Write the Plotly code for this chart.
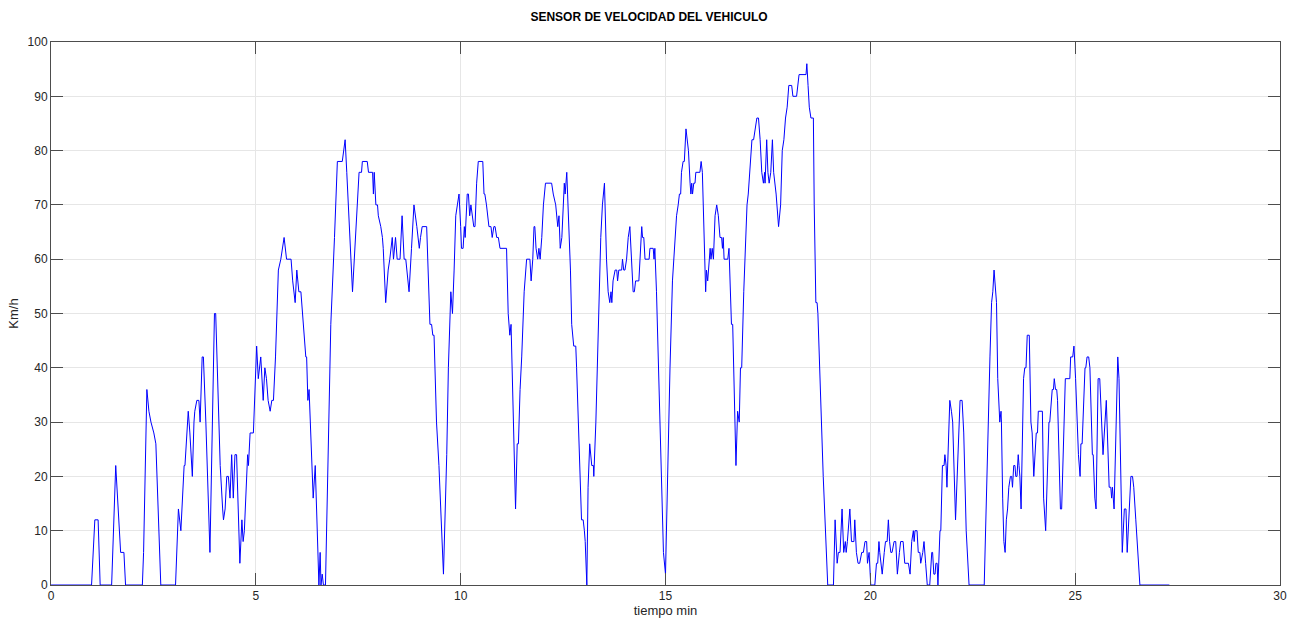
import plotly.graph_objects as go

tiempo_min = [
    0.00, 0.99, 1.07, 1.15, 1.20, 1.48, 1.58, 1.70, 1.78, 1.82,
    2.23, 2.26, 2.34, 2.39, 2.44, 2.51, 2.56, 2.68, 3.04, 3.11,
    3.17, 3.25, 3.27, 3.35, 3.39, 3.45, 3.49, 3.51, 3.56, 3.61,
    3.64, 3.69, 3.72, 3.78, 3.88, 3.99, 4.02, 4.07, 4.13, 4.19,
    4.21, 4.25, 4.29, 4.33, 4.37, 4.41, 4.45, 4.49, 4.53, 4.61,
    4.66, 4.69, 4.72, 4.80, 4.82, 4.86, 4.94, 5.02, 5.06, 5.12,
    5.18, 5.22, 5.26, 5.30, 5.35, 5.39, 5.43, 5.48, 5.55, 5.61,
    5.69, 5.75, 5.86, 5.90, 5.96, 6.00, 6.05, 6.10, 6.16, 6.22,
    6.24, 6.27, 6.30, 6.40, 6.45, 6.54, 6.57, 6.59, 6.62, 6.65,
    6.70, 6.77, 6.83, 6.92, 6.99, 7.11, 7.14, 7.18, 7.22, 7.36,
    7.52, 7.58, 7.60, 7.72, 7.75, 7.85, 7.87, 7.89, 7.93, 7.97,
    7.99, 8.05, 8.09, 8.11, 8.17, 8.21, 8.23, 8.27, 8.33, 8.36,
    8.41, 8.45, 8.52, 8.57, 8.60, 8.62, 8.66, 8.74, 8.80, 8.86,
    8.93, 8.99, 9.02, 9.06, 9.17, 9.21, 9.25, 9.29, 9.32, 9.35,
    9.41, 9.47, 9.52, 9.58, 9.66, 9.70, 9.76, 9.80, 9.84, 9.88,
    9.92, 9.96, 10.00, 10.02, 10.06, 10.09, 10.11, 10.16, 10.19, 10.22,
    10.25, 10.28, 10.32, 10.35, 10.39, 10.43, 10.54, 10.57, 10.59, 10.63,
    10.66, 10.69, 10.74, 10.77, 10.81, 10.84, 10.88, 10.92, 10.96, 11.12,
    11.16, 11.20, 11.23, 11.26, 11.34, 11.38, 11.41, 11.45, 11.49, 11.55,
    11.59, 11.61, 11.69, 11.72, 11.76, 11.79, 11.81, 11.84, 11.88, 11.91,
    11.94, 11.98, 12.02, 12.07, 12.22, 12.26, 12.32, 12.34, 12.37, 12.40,
    12.43, 12.47, 12.50, 12.53, 12.55, 12.59, 12.61, 12.65, 12.68, 12.71,
    12.76, 12.81, 12.83, 12.95, 12.99, 13.02, 13.04, 13.08, 13.11, 13.15,
    13.20, 13.24, 13.25, 13.30, 13.36, 13.42, 13.46, 13.51, 13.56, 13.60,
    13.64, 13.67, 13.69, 13.72, 13.77, 13.81, 13.83, 13.86, 13.93, 13.95,
    13.98, 14.01, 14.05, 14.09, 14.13, 14.17, 14.21, 14.24, 14.27, 14.35,
    14.38, 14.42, 14.44, 14.47, 14.50, 14.60, 14.62, 14.70, 14.72, 14.74,
    14.78, 14.95, 15.00, 15.05, 15.11, 15.17, 15.23, 15.27, 15.31, 15.34,
    15.37, 15.39, 15.43, 15.46, 15.50, 15.56, 15.60, 15.62, 15.64, 15.66,
    15.69, 15.72, 15.74, 15.84, 15.87, 15.90, 15.98, 16.00, 16.03, 16.06,
    16.09, 16.11, 16.14, 16.17, 16.21, 16.25, 16.29, 16.33, 16.37, 16.39,
    16.41, 16.43, 16.52, 16.55, 16.61, 16.64, 16.72, 16.76, 16.80, 16.83,
    16.86, 16.91, 16.94, 16.99, 17.02, 17.06, 17.11, 17.15, 17.19, 17.23,
    17.27, 17.31, 17.35, 17.39, 17.42, 17.43, 17.47, 17.50, 17.53, 17.57,
    17.61, 17.64, 17.70, 17.76, 17.81, 17.85, 17.89, 17.93, 17.97, 18.01,
    18.08, 18.11, 18.20, 18.23, 18.26, 18.43, 18.45, 18.48, 18.51, 18.55,
    18.61, 18.63, 18.67, 18.70, 18.72, 18.85, 18.96, 19.10, 19.14, 19.19,
    19.22, 19.26, 19.31, 19.35, 19.39, 19.41, 19.44, 19.50, 19.54, 19.60,
    19.62, 19.66, 19.70, 19.74, 19.79, 19.83, 19.87, 19.91, 19.93, 19.97,
    19.99, 20.01, 20.11, 20.15, 20.18, 20.21, 20.23, 20.26, 20.29, 20.34,
    20.37, 20.41, 20.44, 20.47, 20.50, 20.53, 20.58, 20.62, 20.64, 20.66,
    20.71, 20.74, 20.80, 20.84, 20.93, 20.97, 21.01, 21.05, 21.07, 21.09,
    21.14, 21.17, 21.21, 21.23, 21.28, 21.31, 21.35, 21.39, 21.45, 21.50,
    21.52, 21.55, 21.58, 21.60, 21.63, 21.65, 21.70, 21.72, 21.76, 21.80,
    21.82, 21.85, 21.87, 21.94, 21.98, 22.01, 22.08, 22.16, 22.19, 22.24,
    22.28, 22.34, 22.41, 22.78, 22.81, 22.85, 22.92, 22.96, 22.99, 23.02,
    23.06, 23.08, 23.11, 23.14, 23.16, 23.19, 23.20, 23.23, 23.26, 23.29,
    23.32, 23.35, 23.38, 23.42, 23.45, 23.47, 23.50, 23.53, 23.55, 23.58,
    23.61, 23.63, 23.65, 23.68, 23.74, 23.77, 23.80, 23.83, 23.88, 23.92,
    23.95, 23.99, 24.02, 24.05, 24.08, 24.10, 24.20, 24.23, 24.28, 24.36,
    24.38, 24.41, 24.44, 24.47, 24.49, 24.52, 24.55, 24.57, 24.64, 24.67,
    24.74, 24.76, 24.87, 24.89, 24.94, 24.97, 25.01, 25.05, 25.08, 25.12,
    25.14, 25.17, 25.24, 25.26, 25.29, 25.33, 25.36, 25.42, 25.44, 25.48,
    25.51, 25.56, 25.60, 25.68, 25.76, 25.83, 25.87, 25.89, 25.91, 25.95,
    26.04, 26.07, 26.15, 26.20, 26.24, 26.27, 26.34, 26.36, 26.40, 26.43,
    26.48, 26.58, 27.30,
]

velocidad_kmh = [
    0, 0, 12, 12, 0, 0, 22, 6, 6, 0,
    0, 6, 36, 32, 30, 28, 26, 0, 0, 14,
    10, 22, 22, 32, 28, 20, 30, 32, 34, 34,
    30, 42, 42, 30, 6, 50, 50, 36, 22, 14,
    12, 14, 20, 20, 16, 24, 16, 24, 24, 4,
    12, 8, 10, 24, 22, 28, 28, 44, 38, 42,
    34, 40, 38, 34, 32, 34, 34, 42, 58, 60,
    64, 60, 60, 56, 52, 58, 54, 54, 48, 42,
    42, 34, 36, 16, 22, 0, 6, 0, 2, 0,
    0, 24, 48, 64, 78, 78, 80, 82, 76, 54,
    76, 76, 78, 78, 76, 76, 72, 76, 70, 70,
    68, 66, 64, 62, 52, 56, 58, 60, 64, 60,
    64, 60, 60, 68, 62, 60, 60, 54, 62, 70,
    66, 62, 64, 66, 66, 56, 48, 48, 46, 46,
    30, 22, 12, 2, 24, 40, 54, 50, 58, 68,
    70, 72, 66, 62, 62, 66, 64, 72, 72, 68,
    70, 68, 66, 66, 74, 78, 78, 72, 72, 70,
    68, 66, 66, 64, 66, 66, 64, 64, 62, 62,
    50, 46, 48, 40, 14, 26, 26, 36, 42, 54,
    58, 60, 60, 56, 60, 66, 66, 62, 60, 62,
    60, 64, 70, 74, 74, 72, 70, 68, 66, 68,
    62, 64, 70, 74, 72, 76, 72, 64, 58, 48,
    44, 44, 40, 12, 12, 10, 8, 0, 18, 26,
    22, 22, 20, 30, 50, 64, 70, 74, 60, 54,
    52, 54, 52, 56, 58, 58, 56, 58, 58, 60,
    58, 58, 60, 64, 66, 60, 54, 54, 56, 56,
    60, 66, 64, 64, 60, 60, 62, 62, 60, 62,
    54, 6, 2, 20, 40, 56, 64, 68, 70, 72,
    72, 76, 78, 78, 84, 80, 74, 72, 74, 72,
    74, 74, 76, 76, 78, 76, 54, 58, 56, 60,
    62, 60, 62, 60, 68, 70, 68, 64, 64, 62,
    64, 60, 60, 62, 48, 48, 22, 32, 30, 40,
    40, 54, 60, 70, 72, 76, 82, 82, 84, 86,
    86, 82, 76, 74, 76, 74, 82, 76, 74, 76,
    82, 76, 72, 66, 70, 80, 82, 86, 88, 92,
    92, 90, 90, 92, 94, 94, 96, 92, 88, 86,
    86, 70, 52, 52, 50, 20, 0, 0, 12, 4,
    6, 6, 14, 6, 8, 6, 8, 14, 8, 8,
    12, 6, 4, 4, 6, 6, 8, 8, 4, 6,
    2, 0, 0, 4, 4, 8, 6, 4, 2, 6,
    8, 8, 12, 8, 6, 6, 8, 8, 4, 2,
    6, 8, 8, 4, 4, 2, 8, 10, 8, 10,
    10, 6, 6, 4, 6, 8, 4, 0, 0, 6,
    6, 2, 2, 4, 4, 0, 10, 10, 22, 22,
    24, 22, 18, 34, 32, 30, 12, 30, 34, 34,
    28, 10, 0, 0, 10, 18, 42, 52, 54, 58,
    54, 52, 38, 32, 30, 32, 30, 16, 8, 6,
    12, 14, 18, 20, 20, 18, 22, 22, 20, 20,
    24, 22, 20, 14, 38, 40, 40, 46, 46, 30,
    28, 20, 24, 28, 28, 32, 32, 16, 10, 30,
    30, 34, 36, 36, 38, 36, 36, 34, 14, 14,
    36, 38, 38, 42, 42, 44, 38, 30, 24, 20,
    26, 26, 40, 40, 42, 42, 40, 24, 24, 16,
    14, 38, 38, 24, 34, 18, 18, 16, 18, 14,
    42, 38, 6, 14, 14, 6, 16, 20, 20, 18,
    12, 0, 0,
]

x_ticks = [0, 5, 10, 15, 20, 25, 30]
y_ticks = [0, 10, 20, 30, 40, 50, 60, 70, 80, 90, 100]

FONT = "Liberation Sans, Arial, sans-serif"

fig = go.Figure()
fig.add_trace(go.Scatter(
    x=tiempo_min, y=velocidad_kmh, mode="lines",
    line=dict(color="#0000ff", width=1),
    hoverinfo="x+y", showlegend=False,
))

axis_common = dict(
    showgrid=True, gridcolor="#e6e6e6", gridwidth=1,
    zeroline=False, showline=True, linecolor="#4d4d4d", linewidth=1,
    mirror="allticks", ticks="inside", ticklen=12, tickwidth=1,
    tickcolor="#4d4d4d", automargin=False,
    tickfont=dict(family=FONT, size=12, color="#262626"),
)

fig.update_layout(
    width=1298, height=620,
    margin=dict(l=51, r=18, t=42, b=35),
    paper_bgcolor="white", plot_bgcolor="white",
    title=dict(
        text="<b>SENSOR DE VELOCIDAD DEL VEHICULO</b>",
        x=0.5, xanchor="center", xref="container",
        y=1 - 17 / 620, yanchor="middle", yref="container",
        font=dict(family=FONT, size=12, color="#000000"),
    ),
    xaxis=dict(
        range=[0, 30], tickvals=x_ticks, ticktext=[str(v) for v in x_ticks],
        title=dict(text="tiempo min", standoff=2,
                   font=dict(family=FONT, size=13, color="#262626")),
        **axis_common,
    ),
    yaxis=dict(
        range=[0, 100], tickvals=y_ticks, ticktext=[str(v) for v in y_ticks],
        title=dict(text="Km/h", standoff=6,
                   font=dict(family=FONT, size=13, color="#262626")),
        **axis_common,
    ),
)

fig.write_html("out.html")
